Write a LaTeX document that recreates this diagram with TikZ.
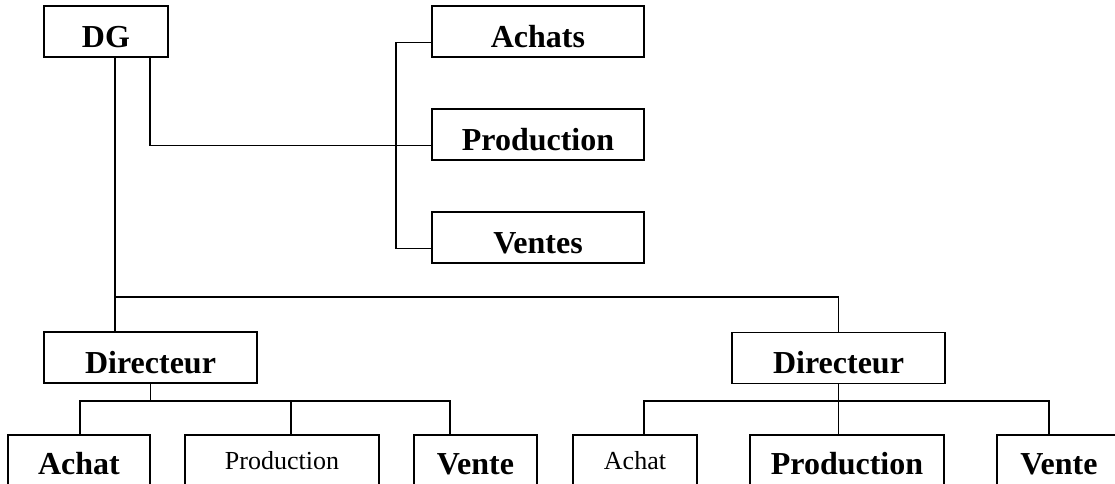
\documentclass[tikz,border=0pt]{standalone}
\usepackage{fontspec}
\setmainfont{Liberation Serif}
\tikzset{
  unit/.style={draw,line width=0.8pt,inner xsep=0pt,inner ysep=0pt,minimum height=25.5pt,text height=20.5pt,text depth=5pt,font=\fontsize{16}{19}\selectfont\bfseries},
  leaf/.style={draw,line width=0.8pt,inner xsep=0pt,inner ysep=0pt,minimum height=27.5pt,text height=19.5pt,text depth=8pt,font=\fontsize{16}{19}\selectfont\bfseries},
  leafthin/.style={leaf,text height=17pt,text depth=10.5pt,font=\fontsize{13}{16}\selectfont},
}

\begin{document}
\begin{tikzpicture}[x=0.5pt,y=-0.5pt,line width=0.8pt]
\useasboundingbox (0,0) rectangle (1115,483);
\node[unit,minimum width=62pt] (dg) at (106,31.5) {DG};
\node[unit,minimum width=106pt] (achats) at (538,31.5) {Achats};
\node[unit,minimum width=106pt] (production) at (538,134.5) {Production};
\node[unit,minimum width=106pt] (ventes) at (538,237.5) {Ventes};
\node[unit,minimum width=106.5pt] (dir1) at (150.5,357.5) {Directeur};
\node[unit,minimum width=106.5pt] (dir2) at (838.5,358) {Directeur};
\node[leaf,minimum width=71pt] (achat1) at (79,462.5) {Achat};
\node[leafthin,minimum width=97pt] (production1) at (282,462.5) {Production};
\node[leaf,minimum width=61.5pt] (vente1) at (475.5,462.5) {Vente};
\node[leafthin,minimum width=62pt] (achat2) at (635,462.5) {Achat};
\node[leaf,minimum width=97pt] (production2) at (847,462.5) {Production};
\node[leaf,minimum width=62pt] (vente2) at (1059,462.5) {Vente};

\coordinate (dgleft) at ([xshift=4.5pt]dg.south);
\coordinate (dgright) at ([xshift=22pt]dg.south);
\draw (dgleft) -- (dgleft |- dir1.north);
\draw (dgleft |- 0,297) -| (dir2.north);
\draw (dgright) |- (production.mid west);
\draw (achats.mid west) -- ++(-35,0) |- (ventes.mid west);

\coordinate (d1) at ([xshift=0.5pt]achat1.north);
\coordinate (d2) at ([xshift=4.5pt]production1.north);
\coordinate (d3) at ([xshift=-12.75pt]vente1.north);
\draw (dir1.south) -- (dir1.south |- 0,401) coordinate (b1);
\draw (d1) |- (b1) -| (d3);
\draw (d2) -- (d2 |- b1);

\coordinate (e1) at ([xshift=4.5pt]achat2.north);
\coordinate (e3) at ([xshift=-5pt]vente2.north);
\draw (dir2.south) -- (dir2.south |- production2.north);
\draw (e1) |- (dir2.south |- 0,401) -| (e3);
\end{tikzpicture}
\end{document}
